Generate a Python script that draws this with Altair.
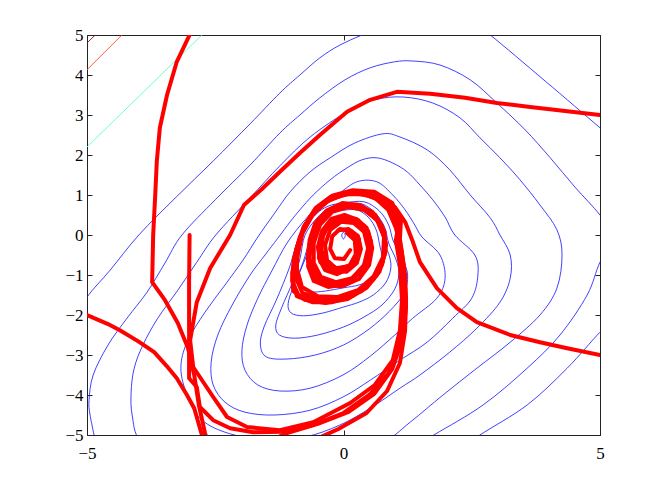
import altair as alt
import pandas as pd

# ---------------- blue level curves (closed) ----------------
lvl_dot = [(0.0, 0.07), (0.035, -0.01), (0.0, -0.1), (-0.035, -0.01)]
lvl_m2 = [(0.0, 0.62), (0.28, 0.62), (0.5, 0.42), (0.64, 0.12), (0.7, -0.22), (0.75, -0.55), (0.72, -0.85),
          (0.55, -1.1), (0.3, -1.25), (0.0, -1.32), (-0.35, -1.4), (-0.65, -1.42), (-0.85, -1.3), (-0.88, -1.05),
          (-0.78, -0.7), (-0.65, -0.3), (-0.55, 0.05), (-0.4, 0.38), (-0.2, 0.56)]
lvl_m1 = [(0.0, 0.7), (0.3, 0.72), (0.55, 0.5), (0.72, 0.18), (0.8, -0.2), (0.9, -0.55), (0.92, -0.85),
          (0.82, -1.2), (0.58, -1.5), (0.3, -1.68), (0.0, -1.8), (-0.4, -1.95), (-0.78, -2.02), (-1.02, -1.95),
          (-1.08, -1.72), (-0.98, -1.3), (-0.82, -0.8), (-0.7, -0.3), (-0.62, 0.12), (-0.42, 0.5), (-0.22, 0.64)]
lvl_0 = [(0.0, 0.75), (0.35, 0.78), (0.62, 0.55), (0.8, 0.2), (0.88, -0.2), (1.02, -0.6), (1.08, -0.95),
         (1.0, -1.35), (0.75, -1.75), (0.4, -2.05), (0.0, -2.3), (-0.5, -2.5), (-0.95, -2.58), (-1.25, -2.5),
         (-1.32, -2.25), (-1.2, -1.8), (-1.0, -1.2), (-0.85, -0.6), (-0.75, 0.0), (-0.5, 0.45), (-0.27, 0.67)]
lvl_1 = [(0.0, 0.8), (0.4, 0.83), (0.7, 0.6), (0.88, 0.25), (0.97, -0.15), (1.15, -0.6), (1.25, -1.0),
         (1.18, -1.45), (0.9, -1.9), (0.5, -2.35), (0.0, -2.75), (-0.55, -3.0), (-1.1, -3.1), (-1.5, -3.05),
         (-1.62, -2.75), (-1.55, -2.3), (-1.3, -1.6), (-1.05, -0.8), (-0.85, 0.0), (-0.55, 0.5), (-0.3, 0.72)]
lvl_2 = [(-0.13, 1.0), (0.26, 1.33), (0.65, 1.33), (0.96, 1.0), (1.2, 0.63), (1.39, 0.25), (1.53, -0.05),
         (1.88, -0.5), (1.98, -1.08), (1.82, -1.58), (1.35, -2.08), (1.0, -2.5), (0.52, -3.03), (-0.01, -3.5),
         (-0.65, -3.83), (-1.24, -3.9), (-1.67, -3.75), (-1.92, -3.38), (-1.98, -2.88), (-1.88, -2.25),
         (-1.67, -1.58), (-1.39, -0.88), (-1.1, -0.2), (-0.75, 0.38), (-0.46, 0.75)]
lvl_3 = [(-1.04, 0.33), (-0.85, 0.63), (-0.59, 1.0), (-0.26, 1.38), (0.07, 1.68), (0.36, 1.88), (0.65, 1.93),
         (0.96, 1.8), (1.24, 1.58), (1.49, 1.25), (1.74, 0.88), (1.98, 0.45), (2.17, 0.0), (2.56, -0.5),
         (2.62, -1.0), (2.5, -1.58), (2.13, -2.08), (1.63, -2.68), (1.1, -3.13), (0.52, -3.63), (-0.01, -4.05),
         (-0.65, -4.38), (-1.34, -4.5), (-1.92, -4.43), (-2.31, -4.18), (-2.54, -3.75), (-2.58, -3.18),
         (-2.45, -2.5), (-2.17, -1.75), (-1.82, -1.0), (-1.53, -0.5), (-1.28, -0.08)]
lvl_4 = [(-1.67, -0.05), (-1.34, 0.55), (-1.04, 1.08), (-0.65, 1.58), (-0.26, 1.93), (0.22, 2.3), (0.77, 2.53),
         (1.1, 2.45), (1.63, 2.13), (2.07, 1.63), (2.47, 1.0), (2.86, 0.43), (3.05, 0.0), (3.25, -0.5),
         (3.25, -1.08), (3.05, -1.68), (2.6, -2.33), (2.07, -2.93), (1.49, -3.5), (1.1, -3.83), (0.52, -4.33),
         (-0.07, -4.75), (-0.75, -5.05), (-1.53, -5.13), (-2.31, -4.93), (-2.8, -4.58), (-3.05, -4.0),
         (-3.17, -3.33), (-3.05, -2.68), (-2.7, -1.93), (-2.31, -1.25), (-1.96, -0.63)]
lvl_5 = [(-2.49, 0.0), (-1.82, 0.93), (-1.24, 1.73), (-0.65, 2.45), (0.07, 3.08), (0.61, 3.38), (1.16, 3.45),
         (1.74, 3.3), (2.27, 2.93), (2.66, 2.43), (3.05, 1.93), (3.44, 1.38), (3.83, 0.75), (4.16, 0.13),
         (4.26, -0.5), (4.16, -1.33), (3.83, -2.0), (3.25, -2.68), (2.6, -3.33), (1.94, -4.0), (1.3, -4.68),
         (0.71, -5.25), (-0.26, -5.75), (-1.82, -5.75), (-3.38, -5.58), (-3.97, -5.13), (-4.12, -4.5),
         (-4.14, -3.93), (-4.08, -3.33), (-3.91, -2.75), (-3.62, -2.08), (-3.23, -1.38), (-2.86, -0.68)]

# ---------------- blue level curves leaving the frame (open pieces) ----------------
lvl_6 = [(-4.84, -5.13), (-4.94, -4.5), (-4.96, -4.13), (-4.88, -3.5), (-4.59, -2.75), (-4.22, -2.08),
         (-3.83, -1.43), (-3.48, -0.7), (-3.15, 0.0), (-2.5, 0.88), (-1.82, 1.75), (-1.24, 2.55), (-0.85, 3.0),
         (-0.46, 3.43), (0.03, 3.88), (0.52, 4.18), (1.0, 4.33), (1.35, 4.35), (1.88, 4.25), (2.47, 3.88),
         (2.99, 3.3), (3.54, 2.63), (4.03, 1.93), (4.51, 1.2), (5.0, 0.5), (5.29, -0.08), (5.0, -0.68),
         (4.75, -1.5), (4.22, -2.5), (3.58, -3.33), (2.72, -4.25), (1.76, -5.0), (1.1, -5.5)]
lvl_7a = [(-5.33, -2.25), (-5.0, -1.55), (-4.55, -0.88), (-3.99, 0.0), (-3.26, 0.95), (-2.54, 1.85),
          (-1.82, 2.78), (-1.24, 3.55), (-0.85, 4.0), (-0.46, 4.43), (-0.07, 4.75), (0.36, 5.0), (0.81, 5.25)]
lvl_7b = [(2.47, 5.33), (2.86, 5.0), (3.93, 3.85), (5.0, 2.68), (5.39, 2.25)]
lvl_7c = [(5.39, -2.0), (5.0, -2.43), (4.36, -3.33), (3.58, -4.25), (2.66, -5.0), (2.27, -5.38)]

# ---------------- higher levels in the upper-left corner ----------------
lvl_cyan = [(-5.1, 2.07), (-5.0, 2.2), (-2.76, 5.0), (-2.6, 5.2)]
lvl_orange = [(-5.1, 4.0), (-5.0, 4.13), (-4.32, 5.0), (-4.2, 5.15)]
lvl_darkred = [(-5.1, 4.68), (-5.0, 4.8), (-4.84, 5.0), (-4.75, 5.1)]

# ---------------- trajectories (red) ----------------
spiral_a = [(1.02, 0.18), (0.87, 0.63), (0.61, 0.93), (0.28, 1.05), (-0.07, 1.0), (-0.4, 0.8), (-0.65, 0.43),
            (-0.85, -0.08), (-0.95, -0.63), (-0.98, -1.18), (-0.91, -1.53), (-0.61, -1.68), (-0.22, -1.68),
            (0.17, -1.53), (0.52, -1.2), (0.75, -0.75), (0.83, -0.25), (0.75, 0.23), (0.56, 0.58), (0.26, 0.75),
            (-0.07, 0.73), (-0.34, 0.53), (-0.56, 0.18), (-0.67, -0.28), (-0.69, -0.78), (-0.58, -1.15),
            (-0.3, -1.3), (0.03, -1.23), (0.32, -0.93), (0.5, -0.53), (0.52, -0.13), (0.4, 0.23), (0.17, 0.4),
            (-0.11, 0.38), (-0.32, 0.18), (-0.46, -0.18), (-0.48, -0.58), (-0.36, -0.88), (-0.13, -0.98),
            (0.13, -0.83), (0.26, -0.5), (0.26, -0.15), (0.13, 0.1), (-0.07, 0.15), (-0.22, -0.03),
            (-0.26, -0.35), (-0.17, -0.58), (0.01, -0.6), (0.13, -0.38)]
spiral_b = [(0.81, 0.88), (0.48, 1.05), (0.09, 1.08), (-0.26, 0.95), (-0.54, 0.68), (-0.75, 0.25), (-0.89, -0.25),
            (-0.91, -0.83), (-0.81, -1.3), (-0.5, -1.53), (-0.11, -1.55), (0.28, -1.38), (0.59, -1.03),
            (0.77, -0.55), (0.79, -0.05), (0.65, 0.38), (0.4, 0.63), (0.09, 0.7), (-0.22, 0.58), (-0.46, 0.25),
            (-0.58, -0.2), (-0.58, -0.7), (-0.44, -1.05), (-0.15, -1.18), (0.17, -1.08), (0.4, -0.75),
            (0.48, -0.33), (0.4, 0.08), (0.2, 0.3), (-0.05, 0.33), (-0.26, 0.13), (-0.36, -0.25), (-0.32, -0.63),
            (-0.15, -0.83), (0.11, -0.78), (0.24, -0.48), (0.22, -0.13), (0.07, 0.05)]
spiral_c = [(1.08, 0.3), (0.9, 0.72), (0.55, 0.98), (0.15, 1.05), (-0.25, 0.9), (-0.58, 0.55), (-0.8, 0.05),
            (-0.9, -0.55), (-0.92, -1.1), (-0.8, -1.45), (-0.45, -1.6), (-0.05, -1.58), (0.35, -1.4), (0.65, -1.0),
            (0.8, -0.5), (0.8, 0.0), (0.65, 0.42), (0.38, 0.68), (0.05, 0.75), (-0.28, 0.6), (-0.52, 0.28),
            (-0.64, -0.15), (-0.66, -0.6), (-0.55, -0.98), (-0.28, -1.2), (0.05, -1.18), (0.33, -0.95),
            (0.5, -0.58), (0.54, -0.18), (0.45, 0.18), (0.25, 0.4), (-0.02, 0.45), (-0.27, 0.3), (-0.4, 0.0),
            (-0.43, -0.38), (-0.33, -0.7), (-0.1, -0.85), (0.15, -0.75), (0.3, -0.45), (0.3, -0.12)]
spiral_d = [(1.0, 0.45), (0.78, 0.82), (0.42, 1.02), (0.02, 1.02), (-0.35, 0.82), (-0.65, 0.45), (-0.85, -0.05),
            (-0.97, -0.6), (-1.0, -1.15), (-0.88, -1.5), (-0.55, -1.65), (-0.15, -1.62), (0.25, -1.45),
            (0.58, -1.12), (0.76, -0.68), (0.82, -0.2), (0.72, 0.28), (0.48, 0.6), (0.15, 0.72), (-0.18, 0.65),
            (-0.45, 0.38), (-0.6, 0.0), (-0.68, -0.45), (-0.65, -0.88), (-0.45, -1.15), (-0.12, -1.22),
            (0.2, -1.08), (0.42, -0.78), (0.52, -0.38), (0.48, 0.02), (0.32, 0.3), (0.08, 0.45), (-0.18, 0.4),
            (-0.36, 0.15), (-0.45, -0.22), (-0.42, -0.58), (-0.24, -0.82), (0.02, -0.88), (0.22, -0.7),
            (0.32, -0.4), (0.3, -0.1), (0.15, 0.1)]
spiral_e = [(1.12, 0.35), (0.95, 0.8), (0.6, 1.08), (0.18, 1.12), (-0.22, 0.98), (-0.55, 0.65), (-0.78, 0.2),
            (-0.92, -0.35), (-1.0, -0.95), (-0.98, -1.4), (-0.75, -1.62), (-0.35, -1.7), (0.08, -1.6),
            (0.45, -1.32), (0.7, -0.92), (0.82, -0.42), (0.8, 0.08), (0.62, 0.5), (0.32, 0.75), (-0.02, 0.8),
            (-0.32, 0.62), (-0.55, 0.3), (-0.66, -0.12), (-0.7, -0.6), (-0.6, -1.02), (-0.35, -1.25),
            (-0.02, -1.28), (0.3, -1.1), (0.5, -0.75), (0.56, -0.32), (0.48, 0.1), (0.28, 0.38), (0.02, 0.5),
            (-0.24, 0.4), (-0.42, 0.1), (-0.5, -0.3), (-0.45, -0.68), (-0.22, -0.9), (0.06, -0.92), (0.26, -0.7),
            (0.34, -0.35), (0.28, -0.02), (0.1, 0.15), (-0.1, 0.12)]

traj_1 = [(-5.0, -2.0), (-4.6, -2.22), (-4.36, -2.38), (-4.0, -2.66), (-3.69, -2.93), (-3.45, -3.27),
          (-3.25, -3.58), (-3.06, -3.98), (-2.91, -4.33), (-2.76, -5.0), (-2.6, -5.5), (-2.1, -5.75),
          (-1.4, -5.6), (-0.7, -5.2), (-0.1, -4.85), (0.45, -4.45), (0.85, -3.9), (1.1, -3.2), (1.2, -2.4),
          (1.22, -1.6), (1.18, -0.8), (1.1, -0.1)]
traj_2 = [(-3.0, 5.0), (-3.25, 4.33), (-3.44, 3.5), (-3.58, 2.68), (-3.64, 1.83), (-3.67, 1.0), (-3.71, 0.0),
          (-3.73, -1.18), (-3.48, -1.63), (-3.23, -2.2), (-3.03, -2.83), (-2.91, -3.5), (-2.82, -4.25),
          (-2.7, -4.95), (-2.6, -5.4), (-2.1, -5.55), (-1.6, -5.25), (-1.1, -4.95), (-0.5, -4.72), (0.1, -4.42),
          (0.6, -3.97), (0.95, -3.35), (1.15, -2.6), (1.22, -1.8), (1.2, -1.0), (1.12, -0.3)]
traj_3 = [(-3.0, 0.0), (-3.01, -1.2), (-3.01, -2.4), (-3.01, -3.58), (-2.86, -3.8), (-2.8, -4.3), (-2.54, -4.63),
          (-2.21, -4.83), (-1.76, -4.93), (-1.2, -4.92), (-0.6, -4.75), (0.0, -4.45), (0.5, -4.0), (0.88, -3.45),
          (1.08, -2.75), (1.16, -2.0), (1.16, -1.2), (1.1, -0.45), (1.05, 0.05)]
traj_4 = [(5.0, 3.0), (4.32, 3.1), (3.64, 3.2), (2.99, 3.3), (2.37, 3.43), (1.69, 3.53), (1.04, 3.58), (0.52, 3.38),
          (0.07, 3.08), (-0.46, 2.5), (-0.85, 2.05), (-1.24, 1.58), (-1.59, 1.15), (-1.94, 0.75), (-2.21, 0.0),
          (-2.6, -0.83), (-2.86, -1.68), (-2.99, -2.63), (-2.93, -3.3), (-2.54, -4.05), (-2.27, -4.55),
          (-1.88, -4.8), (-1.24, -4.88), (-0.59, -4.68), (0.13, -4.2), (0.61, -3.75), (0.96, -3.13),
          (1.1, -2.38), (1.14, -1.63), (1.1, -0.75), (1.02, -0.13)]
traj_5 = [(5.0, -3.0), (4.36, -2.83), (3.83, -2.68), (3.25, -2.5), (2.6, -2.18), (2.21, -1.83), (1.82, -1.33),
          (1.49, -0.68), (1.34, -0.13), (1.2, 0.33), (1.0, 0.7)]

xtick_vals = [-5, 0, 5]
ytick_vals = [-5, -4, -3, -2, -1, 0, 1, 2, 3, 4, 5]


def to_df(curves):
    recs = []
    for name, pts in curves.items():
        for i, (x, y) in enumerate(pts):
            recs.append({"id": name, "i": i, "x": x, "y": y})
    return pd.DataFrame(recs)


closed_df = to_df({"dot": lvl_dot, "m2": lvl_m2, "m1": lvl_m1, "l0": lvl_0, "l1": lvl_1, "l2": lvl_2,
                   "l3": lvl_3, "l4": lvl_4, "l5": lvl_5})
open_df = to_df({"l6": lvl_6, "l7a": lvl_7a, "l7b": lvl_7b, "l7c": lvl_7c})
high_df = to_df({"cyan": lvl_cyan, "orange": lvl_orange, "darkred": lvl_darkred})
traj_df = to_df({"t1": traj_1 + spiral_e, "t2": traj_2 + spiral_a, "t3": traj_3 + spiral_d,
                 "t4": traj_4 + spiral_c, "t5": traj_5 + spiral_b})

XS = alt.Scale(domain=[-5, 5], nice=False, zero=False)
YS = alt.Scale(domain=[-5, 5], nice=False, zero=False)

common = dict(title=None, grid=False, domain=False, tickSize=5, tickColor="#222222", tickWidth=1, offset=-5,
              labelFont="Liberation Serif", labelFontSize=17, labelColor="#000000", labelFlush=False,
              labelOverlap=False)
ax_bottom = alt.Axis(orient="bottom", values=xtick_vals, labelPadding=10, **common)
ax_left = alt.Axis(orient="left", values=ytick_vals, labelPadding=4, **common)
ax_top = alt.Axis(orient="top", values=xtick_vals, labels=False, **common)
ax_right = alt.Axis(orient="right", values=ytick_vals, labels=False, **common)

blue = "#1f1fff"

l_closed = alt.Chart(closed_df).mark_line(interpolate="cardinal-closed", clip=True, stroke=blue,
                                          strokeWidth=0.85).encode(
    x=alt.X("x:Q", scale=XS, axis=ax_bottom), y=alt.Y("y:Q", scale=YS, axis=ax_left),
    detail="id:N", order="i:Q")
l_open = alt.Chart(open_df).mark_line(interpolate="cardinal", clip=True, stroke=blue, strokeWidth=0.85).encode(
    x=alt.X("x:Q", scale=XS, axis=ax_top), y=alt.Y("y:Q", scale=YS, axis=ax_right),
    detail="id:N", order="i:Q")
l_high = alt.Chart(high_df).mark_line(clip=True, strokeWidth=0.9).encode(
    x=alt.X("x:Q", scale=XS, axis=None), y=alt.Y("y:Q", scale=YS, axis=None),
    color=alt.Color("id:N", scale=alt.Scale(domain=["cyan", "orange", "darkred"],
                                            range=["#5dffc0", "#ff4a2a", "#7a1010"]), legend=None),
    detail="id:N", order="i:Q")
l_traj = alt.Chart(traj_df).mark_line(clip=True, stroke="#ff0000", strokeWidth=4, strokeJoin="round",
                                      strokeCap="round").encode(
    x=alt.X("x:Q", scale=XS, axis=None), y=alt.Y("y:Q", scale=YS, axis=None),
    detail="id:N", order="i:Q")

chart = alt.layer(l_closed, l_open, l_high, l_traj).resolve_axis(
    x="independent", y="independent"
).properties(
    width=513, height=400,
    autosize=alt.AutoSizeParams(type="none"),
    padding={"left": 79, "top": 27, "right": 56, "bottom": 40},
    background="white",
).configure_view(stroke="#222222", strokeWidth=1)

chart.save("out.html", embed_options={"renderer": "svg", "actions": False})
